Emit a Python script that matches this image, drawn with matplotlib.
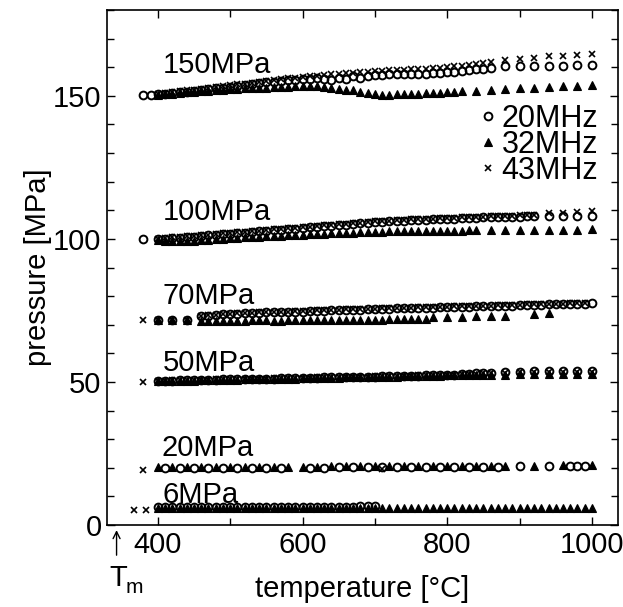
import matplotlib
matplotlib.use("Agg")
import matplotlib.pyplot as plt
from matplotlib.ticker import MultipleLocator

plt.rcParams['font.family'] = ['Liberation Sans', 'DejaVu Sans']

# shared temperature grids [degC]
t_400_860 = [400, 410, 420, 430, 440, 450, 460, 470, 480, 490,
             500, 510, 520, 530, 540, 550, 560, 570, 580, 590,
             600, 610, 620, 630, 640, 650, 660, 670, 680, 690,
             700, 710, 720, 730, 740, 750, 760, 770, 780, 790,
             800, 810, 820, 830, 840, 850, 860]
t_sparse = [880, 900, 920, 940, 960, 980, 1000]

# ---- 150 MPa ----
t150_circ = [380, 390] + t_400_860 + t_sparse
p150_circ = [150.3, 150.4,
             150.6, 150.8, 151.0, 151.2, 151.4, 151.7, 152.0, 152.3, 152.6, 152.9,
             153.2, 153.5, 153.8, 154.1, 154.4, 154.7, 155.0, 155.3, 155.5, 155.7,
             155.9, 156.0, 156.2, 155.8, 155.6, 156.3, 156.0, 156.8, 156.4, 157.0,
             157.3, 157.3, 157.5, 157.5, 157.6, 157.6, 157.7, 157.8, 157.9, 158.0,
             158.2, 158.5, 158.8, 159.0, 159.3, 159.5, 159.6,
             160.3, 160.4, 160.5, 160.5, 160.6, 160.7, 160.8]
t150_tri = [400, 410, 420, 430, 440, 450, 460, 470, 480, 490,
            500, 510, 520, 530, 540, 550, 560, 570, 580, 590,
            600, 610, 620, 630, 640, 650, 660, 670, 680, 690,
            700, 710, 720, 730, 740, 750, 760, 770, 780, 790,
            800, 810, 820, 840, 860, 880, 900, 920, 940, 960, 980, 1000]
p150_tri = [150.4, 150.6, 150.8, 151.0, 151.2, 151.4, 151.6, 151.8, 152.0, 152.2,
            152.4, 152.5, 152.6, 152.7, 152.8, 152.9, 153.0, 153.1, 153.2, 153.3,
            153.4, 153.5, 153.5, 153.2, 152.8, 152.5, 152.2, 151.9, 151.5, 151.0,
            150.5, 150.4, 150.4, 150.5, 150.6, 150.7, 150.8, 150.9, 151.0, 151.1,
            151.3, 151.4, 151.6, 151.8, 152.0, 152.3, 152.6, 152.9, 153.2, 153.4, 153.6, 153.8]
t150_x = t_400_860 + t_sparse
p150_x = [150.8, 151.0, 151.3, 151.6, 151.9, 152.2, 152.5, 152.8, 153.1, 153.4,
          153.7, 154.0, 154.3, 154.6, 154.9, 155.2, 155.5, 155.8, 156.1, 156.4,
          156.7, 156.9, 157.1, 157.3, 157.5, 157.7, 157.9, 158.1, 158.3, 158.5,
          158.7, 158.8, 158.9, 159.0, 159.1, 159.3, 159.4, 159.5, 159.7, 159.9,
          160.2, 160.4, 160.6, 160.8, 161.0, 161.4, 161.7,
          162.5, 163.0, 163.4, 163.8, 164.1, 164.4, 164.8]

# ---- 100 MPa ----
t_400_920 = t_400_860 + [870, 880, 890, 900, 910, 920]
t100_circ = [380] + t_400_920 + [940, 960, 980, 1000]
p100_circ = [99.8,
             99.8, 100.0, 100.2, 100.4, 100.6, 100.8, 101.0, 101.2, 101.4, 101.6,
             101.8, 102.0, 102.2, 102.4, 102.6, 102.8, 103.0, 103.2, 103.4, 103.6,
             103.8, 104.0, 104.2, 104.4, 104.6, 104.8, 105.0, 105.2, 105.4, 105.6,
             105.8, 106.0, 106.1, 106.2, 106.3, 106.5, 106.6, 106.7, 106.8, 106.9,
             107.0, 107.1, 107.2, 107.3, 107.4, 107.5, 107.6, 107.7, 107.7, 107.8,
             107.8, 107.9, 107.9,
             108.0, 108.0, 108.1, 108.1]
t100_x = t_400_920 + [940, 960, 980, 1000]
p100_x = [100.1, 100.3, 100.5, 100.7, 100.9, 101.1, 101.3, 101.5, 101.7, 101.9,
          102.1, 102.3, 102.5, 102.7, 102.9, 103.1, 103.3, 103.5, 103.7, 103.9,
          104.1, 104.3, 104.5, 104.7, 104.9, 105.1, 105.3, 105.5, 105.7, 105.9,
          106.1, 106.3, 106.4, 106.5, 106.6, 106.8, 106.9, 107.0, 107.1, 107.2,
          107.3, 107.4, 107.5, 107.6, 107.7, 107.8, 107.9, 108.0, 108.0, 108.1,
          108.2, 108.3, 108.4,
          108.9, 109.2, 109.5, 109.9]
t100_tri = t_400_860[:44] + [840, 860, 880, 900, 920, 940, 960, 980, 1000]
p100_tri = [99.5, 99.4, 99.3, 99.3, 99.3, 99.4, 99.5, 99.6, 99.8, 100.0,
            100.2, 100.4, 100.6, 100.7, 100.8, 100.9, 101.0, 101.1, 101.2, 101.4,
            101.5, 101.6, 101.7, 101.8, 101.9, 102.0, 102.1, 102.2, 102.3, 102.4,
            102.5, 102.5, 102.6, 102.6, 102.7, 102.7, 102.7, 102.8, 102.8, 102.8,
            102.9, 102.9, 102.9, 103.0,
            103.0, 103.0, 103.1, 103.1, 103.1, 103.2, 103.2, 103.2, 103.3]

# ---- 70 MPa ----
t_460_1000 = [460, 470, 480, 490, 500, 510, 520, 530, 540, 550,
              560, 570, 580, 590, 600, 610, 620, 630, 640, 650,
              660, 670, 680, 690, 700, 710, 720, 730, 740, 750,
              760, 770, 780, 790, 800, 810, 820, 830, 840, 850,
              860, 870, 880, 890, 900, 910, 920, 930, 940, 950,
              960, 970, 980, 990, 1000]
t70_circ = [400, 420, 440] + t_460_1000
p70_circ = [71.8, 71.8, 71.8,
            73.0, 73.2, 73.4, 73.6, 73.8, 73.9, 74.0, 74.1, 74.2, 74.3,
            74.4, 74.5, 74.5, 74.6, 74.6, 74.7, 74.8, 74.9, 75.0, 75.1,
            75.2, 75.2, 75.3, 75.4, 75.4, 75.5, 75.6, 75.7, 75.7, 75.8,
            75.9, 75.9, 76.0, 76.1, 76.1, 76.2, 76.3, 76.3, 76.4, 76.5,
            76.5, 76.6, 76.7, 76.7, 76.8, 76.9, 76.9, 77.0, 77.1, 77.1,
            77.2, 77.3, 77.3, 77.4, 77.5]
t70_x = [380, 400, 420, 440] + t_460_1000[:-1]
p70_x = [71.6, 71.6, 71.6, 71.6,
         73.1, 73.3, 73.5, 73.7, 73.9, 74.0, 74.1, 74.2, 74.3, 74.4,
         74.5, 74.6, 74.6, 74.7, 74.8, 74.9, 75.0, 75.1, 75.2, 75.3,
         75.4, 75.4, 75.5, 75.6, 75.6, 75.7, 75.8, 75.9, 75.9, 76.0,
         76.1, 76.1, 76.2, 76.3, 76.3, 76.4, 76.5, 76.5, 76.6, 76.7,
         76.7, 76.8, 76.9, 76.9, 77.0, 77.1, 77.1, 77.2, 77.3, 77.3,
         77.4, 77.5, 77.5, 77.6]
t70_tri = [400, 420, 440] + t_460_1000[:32] + [780, 800, 820, 840, 860, 880, 920, 940]
p70_tri = [71.5, 71.5, 71.5,
           71.4, 71.4, 71.3, 71.3, 71.3, 71.4, 71.4, 71.5, 71.5, 71.5,
           71.4, 71.4, 71.5, 71.5, 71.6, 71.6, 71.6, 71.6, 71.7, 71.7,
           71.7, 71.7, 71.8, 71.8, 71.8, 71.8, 71.9, 71.9, 71.9, 72.0,
           72.0, 72.1,
           72.6, 72.7, 72.8, 72.9, 73.0, 73.1, 73.8, 74.0]

# ---- 50 MPa ----
t50_circ = t_400_860 + t_sparse
p50_circ = [50.4, 50.5, 50.5, 50.6, 50.6, 50.7, 50.7, 50.8, 50.8, 50.9,
            50.9, 51.0, 51.0, 51.1, 51.1, 51.2, 51.2, 51.3, 51.3, 51.4,
            51.4, 51.5, 51.5, 51.6, 51.6, 51.7, 51.7, 51.8, 51.8, 51.9,
            51.9, 52.0, 52.0, 52.1, 52.1, 52.2, 52.2, 52.3, 52.3, 52.4,
            52.4, 52.6, 52.7, 52.9, 53.0, 53.1, 53.2,
            53.5, 53.6, 53.7, 53.7, 53.8, 53.8, 53.9]
t50_tri = t_400_860 + t_sparse
p50_tri = [50.3, 50.3, 50.4, 50.4, 50.5, 50.5, 50.6, 50.6, 50.7, 50.7,
           50.8, 50.8, 50.9, 50.9, 51.0, 51.0, 51.1, 51.1, 51.2, 51.2,
           51.3, 51.3, 51.4, 51.4, 51.5, 51.5, 51.6, 51.6, 51.7, 51.7,
           51.8, 51.8, 51.9, 51.9, 52.0, 52.0, 52.1, 52.1, 52.2, 52.2,
           52.3, 52.3, 52.4, 52.4, 52.5, 52.5, 52.6,
           52.6, 52.7, 52.7, 52.8, 52.8, 52.9, 52.9]
t50_x = [380] + t_400_860 + t_sparse
p50_x = [49.9,
         50.5, 50.5, 50.6, 50.6, 50.7, 50.7, 50.8, 50.8, 50.9, 50.9,
         51.0, 51.0, 51.1, 51.1, 51.2, 51.2, 51.3, 51.3, 51.4, 51.4,
         51.5, 51.5, 51.6, 51.6, 51.7, 51.7, 51.8, 51.8, 51.9, 51.9,
         52.0, 52.0, 52.1, 52.1, 52.2, 52.2, 52.3, 52.3, 52.4, 52.4,
         52.5, 52.6, 52.7, 52.8, 52.9, 53.0, 53.1,
         53.3, 53.4, 53.4, 53.5, 53.5, 53.6, 53.6]

# ---- 20 MPa ----
t20_tri = [400, 420, 440, 460, 480, 500, 520, 540, 560, 580,
           600, 620, 640, 660, 680, 700, 720, 740, 760, 780, 800, 820, 840, 860,
           880, 920, 960, 1000]
p20_tri = [20.3, 20.3, 20.3, 20.3, 20.3, 20.4, 20.4, 20.4, 20.4, 20.4,
           20.4, 20.4, 20.5, 20.5, 20.5, 20.5, 20.5, 20.5, 20.6, 20.6, 20.6, 20.6, 20.6, 20.7,
           20.8, 20.8, 20.9, 20.9]
t20_circ = [410, 430, 450, 470, 490, 510, 530, 550, 570,
            610, 630, 650, 670, 690, 710, 730, 750, 770, 790, 810, 830, 850, 870,
            900, 940, 970, 980, 990]
p20_circ = [20.0, 20.0, 20.0, 20.0, 20.1, 20.1, 20.1, 20.1, 20.1,
            20.1, 20.1, 20.2, 20.2, 20.2, 20.2, 20.2, 20.3, 20.3, 20.3, 20.3, 20.3, 20.4, 20.4,
            20.5, 20.5, 20.6, 20.6, 20.6]
t20_x = [380, 710]
p20_x = [19.2, 19.6]

# ---- 6 MPa ----
t6_tri = [400, 410, 420, 430, 440, 450, 460, 470, 480, 490,
          500, 510, 520, 530, 540, 550, 560, 570, 580, 590,
          600, 610, 620, 630, 640, 650, 660, 670, 680, 690,
          700, 710, 720, 730, 740, 750, 760, 770, 780, 790,
          800, 810, 820, 830, 840, 850, 860, 870, 880, 890,
          900, 910, 920, 930, 940, 950, 960, 970, 980, 990, 1000]
p6_tri = [6.0, 6.1, 6.0, 6.1, 6.0, 6.1, 6.0, 6.1, 6.0, 6.1,
          6.1, 6.1, 6.1, 6.1, 6.1, 6.1, 6.1, 6.1, 6.1, 6.1,
          6.1, 6.1, 6.1, 6.1, 6.1, 6.1, 6.1, 6.1, 6.1, 6.1,
          6.1, 5.9, 5.9, 5.9, 5.9, 5.9, 5.9, 5.9, 5.9, 5.9,
          5.9, 5.9, 5.9, 5.9, 5.9, 5.9, 5.9, 5.9, 5.9, 5.9,
          5.9, 5.9, 5.9, 5.9, 5.9, 5.9, 5.9, 5.9, 5.9, 5.9, 5.9]
t6_circ = [400, 410, 420, 430, 440, 450, 460, 470, 480, 490,
           500, 510, 520, 530, 540, 550, 560, 570, 580, 590,
           600, 610, 620, 630, 640, 650, 660, 670, 680, 690, 700]
p6_circ = [6.3, 6.4, 6.3, 6.4, 6.3, 6.4, 6.3, 6.4, 6.3, 6.4,
           6.4, 6.4, 6.4, 6.4, 6.4, 6.4, 6.4, 6.4, 6.4, 6.4,
           6.4, 6.4, 6.4, 6.4, 6.4, 6.4, 6.4, 6.4, 6.5, 6.5, 6.6]
t6_x = [367, 384]
p6_x = [5.2, 5.2]

band_labels = ['150MPa', '100MPa', '70MPa', '50MPa', '20MPa', '6MPa']
label_t = [407, 407, 407, 407, 405, 406]
label_p = [157.9, 106.7, 77.4, 53.8, 24.2, 7.8]

circ_series = [(t150_circ, p150_circ), (t100_circ, p100_circ), (t70_circ, p70_circ),
               (t50_circ, p50_circ), (t20_circ, p20_circ), (t6_circ, p6_circ)]
tri_series = [(t150_tri, p150_tri), (t100_tri, p100_tri), (t70_tri, p70_tri),
              (t50_tri, p50_tri), (t20_tri, p20_tri), (t6_tri, p6_tri)]
x_series = [(t150_x, p150_x), (t100_x, p100_x), (t70_x, p70_x),
            (t50_x, p50_x), (t20_x, p20_x), (t6_x, p6_x)]

fig = plt.figure(figsize=(6.23, 6.07), dpi=100)
ax = fig.add_axes([0.172, 0.135, 0.820, 0.8485])

for i, (t, p) in enumerate(tri_series):
    ax.plot(t, p, ls='none', marker='^', ms=6.0, color='k', mew=0.8,
            label='32MHz' if i == 0 else None, zorder=3)
for i, (t, p) in enumerate(circ_series):
    ax.plot(t, p, ls='none', marker='o', ms=5.6, mfc='none', mec='k', mew=1.4,
            label='20MHz' if i == 0 else None, zorder=4)
for i, (t, p) in enumerate(x_series):
    ax.plot(t, p, ls='none', marker='x', ms=4.5, color='k', mew=1.2,
            label='43MHz' if i == 0 else None, zorder=5)

for lab, lt, lp in zip(band_labels, label_t, label_p):
    ax.text(lt, lp, lab, fontsize=21, ha='left', va='baseline')

h, l = ax.get_legend_handles_labels()
order = [l.index('20MHz'), l.index('32MHz'), l.index('43MHz')]
ax.legend([h[k] for k in order], [l[k] for k in order], loc='upper right',
          bbox_to_anchor=(0.961, 0.818), frameon=False, fontsize=22,
          handlelength=0.4, handletextpad=0.25, labelspacing=-0.13,
          borderpad=0, borderaxespad=0)

ax.set_xlim(330, 1036)
ax.set_ylim(0, 180)
ax.xaxis.set_major_locator(MultipleLocator(200))
ax.xaxis.set_minor_locator(MultipleLocator(100))
ax.yaxis.set_major_locator(MultipleLocator(50))
ax.yaxis.set_minor_locator(MultipleLocator(10))
ax.tick_params(which='both', direction='in', top=True, right=True,
               labelsize=21, width=1.0)
ax.tick_params(which='major', length=6, pad=4)
ax.tick_params(which='minor', length=5)
for s in ax.spines.values():
    s.set_linewidth(1.2)

ax.set_xlabel('temperature [°C]', fontsize=21, labelpad=12)
ax.set_ylabel('pressure [MPa]', fontsize=21, labelpad=1)

# melting point marker below the axis
ax.annotate('', xy=(343, -0.8), xytext=(343, -11.5),
            arrowprops=dict(arrowstyle='->,head_length=0.5,head_width=0.25', lw=1.0, color='k'),
            annotation_clip=False)
ax.text(346, -21.4, 'T', fontsize=21, ha='center', va='baseline')
ax.text(368, -23.9, 'm', fontsize=15, ha='center', va='baseline')

fig.savefig('out.png', dpi=100)
